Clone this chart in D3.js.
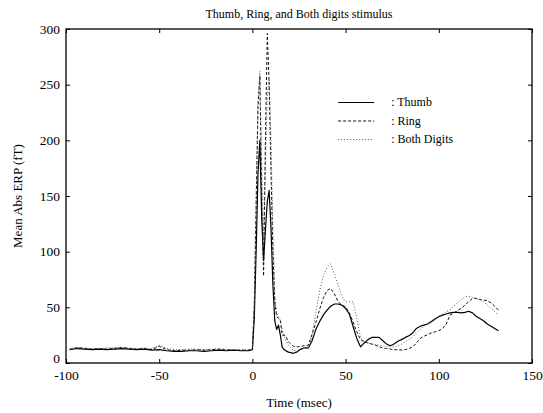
<!DOCTYPE html>
<html>
<head>
<meta charset="utf-8">
<script src="https://cdn.jsdelivr.net/npm/d3@7"></script>
<style>
  body { margin: 0; background: #fff; }
  text { font-family: "Liberation Serif", "DejaVu Serif", serif; fill: #000; }
</style>
</head>
<body>
<div id="chart"></div>
<script>
// time points (msec), shared by all three series
const times = [
  -98,-94,-90,-86,-82,-78,-74,-70,-66,-62,-58,-54,-50,-46,-42,-38,-34,-30,-26,-22,-18,-14,-10,-6,-2,
  0,1,2,3,4,5,6,7,8,9,10,11,12,13,14,15,16,17,18,19,20,
  22,24,26,28,30,32,34,36,38,40,42,44,46,48,50,52,54,56,58,60,62,64,66,68,70,72,74,76,78,80,
  82,84,86,88,90,92,94,96,98,100,102,104,106,108,110,112,114,116,118,120,122,124,126,128,130,132
];

const thumb = [
  12,13,12.5,12,12.5,12,12.5,13,12.5,12,12.5,11.5,12,11,10.5,10.5,11,11,10.5,11,11.5,11,11.5,11,11,
  12,40,100,170,200,130,92,120,145,155,120,70,38,30,34,25,14,12,11,10,9.5,
  8.7,10,12.5,13.5,13.5,20,30,37,43,47.5,51,53,53,52,49,44,33,22,14.5,18,21,23,23,23,20,17,15.5,17,19.5,21,
  23,24.5,27,31,33,34,35,37,39.5,41.5,43,44,45,45.5,45.5,45,45.5,46.5,45,42,40,38,35,33,31,29
];

const ring = [
  12,14,13,12.5,13,12.5,13,14,13,12.5,13,12,15,12,11,11.5,11.5,12,11.5,12,12.5,12,11.5,11.5,11.5,
  13,50,140,230,258,150,78,200,296,250,170,100,55,42,40,38,25,25,24,20,18,
  15,14.5,15,15.5,16,26,36,48,58,65,67,62,55,52,50.5,45,37,28,21,19,18,17,16,14.5,13.5,13,12.5,12,11.8,11.7,
  12,13,14.5,18,22,24,25.5,27,28,29,31,35,43,45,47,49,52,55,58,58,57,56.5,56,54,51,47.5
];

const both = [
  13,14,13.5,13,13,13.5,14,14,13.5,13,13.5,13,16,13,12,12,12.5,12.5,12,12.5,12.5,12,12,12,12,
  12,55,150,235,262,175,110,180,240,255,200,120,60,45,42,38,30,24,20,17,15,
  11,11.5,13,13.5,13,25,45,64,78,86,89,80,70,60,55,55,55,40,23,19.5,18,17,16.5,16,15.5,15,14.7,14.5,15.5,17,
  19,21,23.5,27,30,33,36,38,40,42,44,46,48,51,54,57,59.5,60,59,58,57,55,52,49,46,43
];

const seriesNames = ["Thumb", "Ring", "Both Digits"];
const xTicks = [-100, -50, 0, 50, 100, 150];
const yTicks = [0, 50, 100, 150, 200, 250, 300];

const W = 543, H = 413;
const margin = { top: 29, right: 11, bottom: 50, left: 66 };
const width = W - margin.left - margin.right;
const height = H - margin.top - margin.bottom;

const svg = d3.select("#chart").append("svg")
    .attr("width", W)
    .attr("height", H);

const g = svg.append("g")
    .attr("transform", `translate(${margin.left},${margin.top})`);

const x = d3.scaleLinear().domain([-100, 150]).range([0, width]);
const y = d3.scaleLinear().domain([0, 300]).range([height, 0]);

// line styles per series
const styles = [
    { dash: null, width: 1.2, color: "#000" },
    { dash: "3,2", width: 1, color: "#111" },
    { dash: "1,2", width: 1, color: "#555" }
];

const line = d3.line()
    .x((d, i) => x(times[i]))
    .y(d => y(d));

g.append("defs").append("clipPath").attr("id", "clip")
    .append("rect").attr("width", width).attr("height", height);

[thumb, ring, both].forEach((vals, k) => {
    g.append("path")
        .datum(vals)
        .attr("clip-path", "url(#clip)")
        .attr("fill", "none")
        .attr("stroke", styles[k].color)
        .attr("stroke-width", styles[k].width)
        .attr("stroke-dasharray", styles[k].dash)
        .attr("stroke-linejoin", "round")
        .attr("d", line);
});

// axes, ticks drawn inward on all four sides; plain hyphen for negatives
const fmt = d => String(d);
const tickStyle = sel => {
    sel.select(".domain").remove();
    sel.selectAll(".tick line").attr("stroke", "#000").attr("stroke-width", 1);
    sel.selectAll(".tick text").style("font-size", "13.5px");
};

g.append("g")
    .attr("transform", `translate(0,${height})`)
    .call(d3.axisBottom(x).tickValues(xTicks).tickSizeInner(-4).tickSizeOuter(0).tickPadding(7).tickFormat(fmt))
    .call(tickStyle);

g.append("g")
    .call(d3.axisTop(x).tickValues(xTicks).tickSizeInner(-4).tickSizeOuter(0).tickFormat(""))
    .call(tickStyle);

const yAxis = g.append("g")
    .call(d3.axisLeft(y).tickValues(yTicks).tickSizeInner(-4).tickSizeOuter(0).tickPadding(6).tickFormat(fmt))
    .call(tickStyle);

// the zero label sits a little above the corner
yAxis.selectAll(".tick text").filter(d => d === 0).attr("dy", "-0.05em");

g.append("g")
    .attr("transform", `translate(${width},0)`)
    .call(d3.axisRight(y).tickValues(yTicks).tickSizeInner(-4).tickSizeOuter(0).tickFormat(""))
    .call(tickStyle);

// frame
g.append("rect")
    .attr("width", width)
    .attr("height", height)
    .attr("fill", "none")
    .attr("stroke", "#000")
    .attr("stroke-width", 1.3);

// title and axis labels
svg.append("text")
    .attr("x", margin.left + width / 2)
    .attr("y", 18)
    .attr("text-anchor", "middle")
    .style("font-size", "12px")
    .text("Thumb, Ring, and Both digits stimulus");

svg.append("text")
    .attr("x", margin.left + width / 2)
    .attr("y", 407)
    .attr("text-anchor", "middle")
    .style("font-size", "13px")
    .text("Time (msec)");

svg.append("text")
    .attr("transform", `translate(22,${margin.top + height / 2}) rotate(-90)`)
    .attr("text-anchor", "middle")
    .style("font-size", "13px")
    .text("Mean Abs ERP (fT)");

// legend
const legend = g.append("g")
    .attr("transform", `translate(${x(46)},${y(234)})`);

seriesNames.forEach((name, k) => {
    const row = legend.append("g").attr("transform", `translate(0,${k * 18.5})`);
    row.append("line")
        .attr("x1", 0).attr("x2", 36)
        .attr("stroke", styles[k].color)
        .attr("stroke-width", styles[k].width)
        .attr("stroke-dasharray", styles[k].dash);
    row.append("text")
        .attr("x", 53)
        .attr("y", 4)
        .style("font-size", "12px")
        .text(": " + name);
});
</script>
</body>
</html>
